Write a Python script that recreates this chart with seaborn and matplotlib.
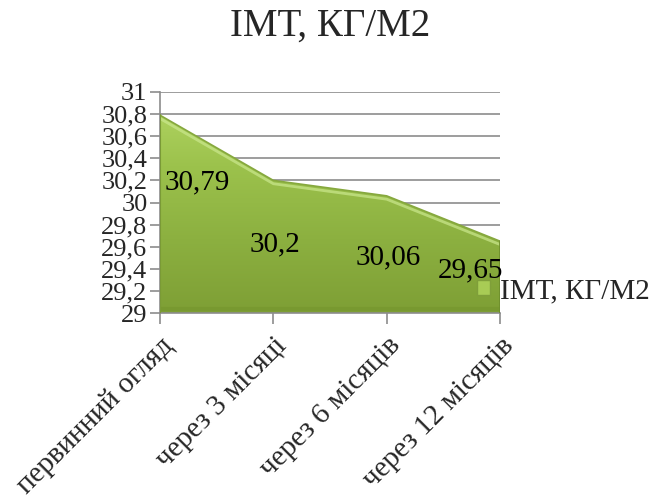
import numpy as np
import pandas as pd
import matplotlib
matplotlib.use("Agg")
import matplotlib.pyplot as plt
import seaborn as sns
from matplotlib.colors import LinearSegmentedColormap
from matplotlib.patches import Patch

# Body-mass index at each visit
visits = ["первинний огляд", "через 3 місяці", "через 6 місяців", "через 12 місяців"]
bmi = [30.79, 30.2, 30.06, 29.65]
series_name = "ІМТ, КГ/М2"
y_ticks = [29, 29.2, 29.4, 29.6, 29.8, 30, 30.2, 30.4, 30.6, 30.8, 31]

sns.set_style("white")
plt.rcParams["font.family"] = ["Liberation Serif", "DejaVu Serif"]

df = pd.DataFrame({"idx": range(len(visits)), "visit": visits, "bmi": bmi})

fig = plt.figure(figsize=(6.51, 5.04), dpi=100)
ax = fig.add_axes([160 / 651, 1 - 313 / 504, 340 / 651, 221 / 504])

ax.set_xlim(0, len(visits) - 1)
ax.set_ylim(y_ticks[0], y_ticks[-1])

# horizontal gridlines
for t in y_ticks:
    ax.axhline(t, color="#8c8c8c", lw=1.2, zorder=0)

# gradient-filled area under the line
poly = ax.fill_between(df["idx"], df["bmi"], y_ticks[0], color="none", lw=0, zorder=2)
cmap = LinearSegmentedColormap.from_list("grn", ["#7e9f35", "#8cb040", "#9cc24c", "#b4d866"])
grad = np.linspace(0, 1, 256).reshape(-1, 1)
img = ax.imshow(grad, cmap=cmap, origin="lower", aspect="auto",
                extent=[0, len(visits) - 1, y_ticks[0], y_ticks[-1]], zorder=2)
img.set_clip_path(poly.get_paths()[0], transform=ax.transData)

# bevel edges
sns.lineplot(data=df, x="idx", y="bmi", ax=ax, color="#86a83e", lw=1.2, zorder=3)
sns.lineplot(x=df["idx"], y=df["bmi"] - 0.03, ax=ax, color="#cbe88e", lw=2.0, zorder=3, alpha=0.7)
ax.plot([0, len(visits) - 1], [y_ticks[0] + 0.04] * 2, color="#71922c", lw=3, zorder=3, alpha=0.45)
ax.plot([0, 0], [y_ticks[0], bmi[0]], color="#7a9a36", lw=1.5, zorder=3)
ax.plot([len(visits) - 1] * 2, [y_ticks[0], bmi[-1]], color="#6f8f2d", lw=2, zorder=3)

# value labels
label_pos = [(0.33, 30.18), (1.01, 29.62), (2.01, 29.50), (2.74, 29.39)]
for (lx, ly), v in zip(label_pos, bmi):
    ax.text(lx, ly, f"{v:g}".replace(".", ","), ha="center", va="center",
            fontsize=21, color="black", zorder=5)

# axes styling
for s in ["top", "right"]:
    ax.spines[s].set_visible(False)
ax.spines["left"].set_color("#8c8c8c")
ax.spines["left"].set_linewidth(1.2)
ax.spines["bottom"].set_color("#8c8c8c")
ax.spines["bottom"].set_linewidth(1.2)
ax.spines["left"].set_zorder(1)

ax.set_yticks(y_ticks)
ax.set_yticklabels([f"{t:g}".replace(".", ",") for t in y_ticks], fontsize=19)
ax.set_xticks(df["idx"])
ax.set_xticklabels(visits, fontsize=21, rotation=45, ha="right", rotation_mode="anchor")
ax.tick_params(axis="y", length=7, width=1.2, color="#8c8c8c", pad=2, left=True)
ax.tick_params(axis="x", length=8, width=1.2, color="#8c8c8c", pad=6, bottom=True)
ax.set_xlabel("")
ax.set_ylabel("")

fig.suptitle(series_name, x=330 / 651, y=0.985, fontsize=28)

handle = Patch(facecolor="#a8cc55", edgecolor="#7f9f3a")
fig.legend([handle], [series_name], loc="center left",
           bbox_to_anchor=(477 / 651, 1 - 291 / 504), frameon=False,
           fontsize=21, handlelength=0.45, handleheight=0.45, handletextpad=0.35,
           borderpad=0, borderaxespad=0)

fig.savefig("out.png", dpi=100)
